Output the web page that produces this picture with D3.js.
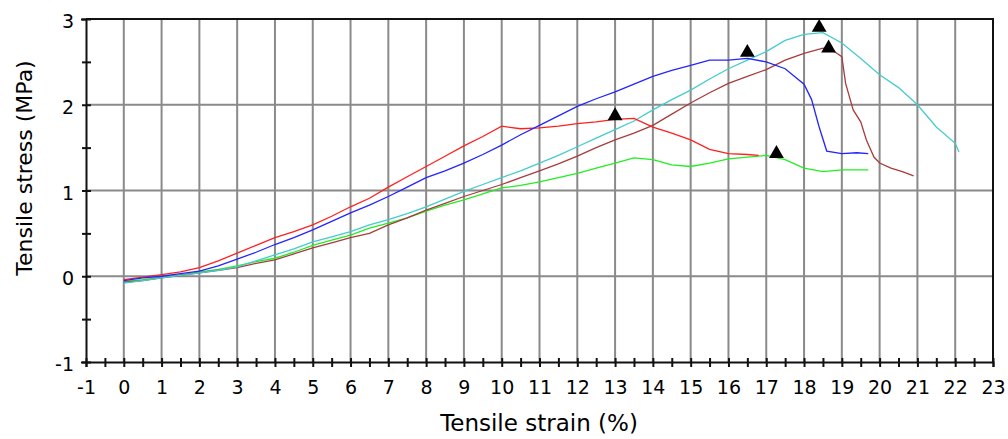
<!DOCTYPE html>
<html lang="en">
<head>
<meta charset="UTF-8">
<title>Tensile stress vs strain</title>
<script src="https://d3js.org/d3.v7.min.js"></script>
<style>
  body { margin: 0; background: #fff; }
  text { font-family: "DejaVu Sans", Verdana, sans-serif; fill: #000; }
</style>
</head>
<body>
<div id="chart"></div>
<script>
// curves: [strain %, stress MPa]
const redPts = [[0,-0.04],[0.5,-0.01],[1,0.02],[1.5,0.05],[2,0.1],[2.5,0.18],[3,0.27],[3.5,0.36],[4,0.45],[4.5,0.52],[5,0.6],[5.5,0.7],[6,0.81],[6.5,0.91],[7,1.04],[7.5,1.16],[8,1.28],[8.5,1.4],[9,1.52],[9.5,1.63],[10,1.75],[10.5,1.72],[11,1.73],[11.5,1.75],[12,1.78],[12.5,1.8],[13,1.83],[13.5,1.84],[14,1.74],[14.5,1.67],[15,1.59],[15.5,1.48],[16,1.43],[16.5,1.42],[16.8,1.41]];
const bluePts = [[0,-0.05],[0.5,-0.02],[1,0],[1.5,0.03],[2,0.06],[2.5,0.12],[3,0.2],[3.5,0.28],[4,0.37],[4.5,0.45],[5,0.54],[5.5,0.64],[6,0.74],[6.5,0.83],[7,0.93],[7.5,1.04],[8,1.15],[8.5,1.23],[9,1.32],[9.5,1.42],[10,1.53],[10.5,1.65],[11,1.76],[11.5,1.87],[12,1.98],[12.5,2.07],[13,2.15],[13.5,2.24],[14,2.33],[14.5,2.4],[15,2.46],[15.5,2.52],[16,2.52],[16.5,2.54],[17,2.5],[17.5,2.42],[18,2.24],[18.2,2.06],[18.4,1.74],[18.6,1.46],[19,1.43],[19.4,1.44],[19.7,1.43]];
const cyanPts = [[0,-0.08],[0.5,-0.05],[1,-0.02],[1.5,0.01],[2,0.04],[2.5,0.07],[3,0.11],[3.5,0.18],[4,0.25],[4.5,0.32],[5,0.4],[5.5,0.46],[6,0.52],[6.5,0.6],[7,0.66],[7.5,0.73],[8,0.81],[8.5,0.9],[9,0.99],[9.5,1.07],[10,1.15],[10.5,1.23],[11,1.32],[11.5,1.41],[12,1.51],[12.5,1.61],[13,1.71],[13.5,1.81],[14,1.94],[14.5,2.06],[15,2.17],[15.5,2.3],[16,2.42],[16.5,2.52],[17,2.62],[17.5,2.75],[18,2.82],[18.5,2.84],[19,2.72],[19.5,2.54],[20,2.35],[20.5,2.2],[21,2.0],[21.5,1.74],[22,1.55],[22.1,1.45]];
const brownPts = [[0,-0.07],[0.5,-0.05],[1,-0.02],[1.5,0.01],[2,0.04],[2.5,0.07],[3,0.1],[3.5,0.15],[4,0.19],[4.5,0.26],[5,0.33],[5.5,0.39],[6,0.45],[6.5,0.5],[7,0.6],[7.5,0.68],[8,0.77],[8.5,0.85],[9,0.93],[9.5,1.0],[10,1.07],[10.5,1.15],[11,1.23],[11.5,1.31],[12,1.4],[12.5,1.5],[13,1.59],[13.5,1.67],[14,1.76],[14.5,1.89],[15,2.02],[15.5,2.14],[16,2.25],[16.5,2.33],[17,2.41],[17.5,2.52],[18,2.6],[18.5,2.66],[18.8,2.62],[19,2.56],[19.1,2.25],[19.3,1.94],[19.5,1.8],[19.65,1.59],[19.85,1.39],[20,1.32],[20.3,1.26],[20.6,1.22],[20.9,1.17]];
const greenPts = [[0,-0.06],[0.5,-0.04],[1,-0.01],[1.5,0.02],[2,0.05],[2.5,0.08],[3,0.12],[3.5,0.17],[4,0.21],[4.5,0.28],[5,0.36],[5.5,0.42],[6,0.48],[6.5,0.56],[7,0.62],[7.5,0.68],[8,0.76],[8.5,0.83],[9,0.89],[9.5,0.96],[10,1.03],[10.5,1.06],[11,1.1],[11.5,1.15],[12,1.2],[12.5,1.26],[13,1.32],[13.5,1.38],[14,1.36],[14.5,1.3],[15,1.28],[15.5,1.32],[16,1.37],[16.5,1.39],[17,1.41],[17.5,1.36],[18,1.26],[18.5,1.22],[19,1.24],[19.7,1.24]];

// break points (triangles)
const peakPts = [[13.0,1.87],[16.5,2.61],[18.4,2.9],[18.65,2.66],[17.27,1.43]];

const xTicks = d3.range(-1, 23.5, 0.5);
const yTicks = d3.range(-1, 3.5, 0.5);

const series = [
    { pts: greenPts, color: "#22ee22" },
    { pts: brownPts, color: "#a83c3c" },
    { pts: cyanPts, color: "#44cccc" },
    { pts: redPts, color: "#ff2020" },
    { pts: bluePts, color: "#2424ff" }
];

const width = 1008, height = 439;
const x = d3.scaleLinear().domain([-1, 23]).range([86, 993]);
const y = d3.scaleLinear().domain([-1, 3]).range([362, 19]);

const svg = d3.select("#chart").append("svg")
    .attr("width", width)
    .attr("height", height);

// grid
svg.append("g").selectAll("line")
    .data(d3.range(0, 23))
    .enter().append("line")
    .attr("x1", d => x(d)).attr("x2", d => x(d))
    .attr("y1", y(-1)).attr("y2", y(3))
    .attr("stroke", "#8a8a8a").attr("stroke-width", 2);

svg.append("g").selectAll("line")
    .data([0, 1, 2])
    .enter().append("line")
    .attr("y1", d => y(d)).attr("y2", d => y(d))
    .attr("x1", x(-1)).attr("x2", x(23))
    .attr("stroke", "#8a8a8a").attr("stroke-width", 2);

// top and right frame
svg.append("path")
    .attr("d", `M${x(-1)},${y(3)}H${x(23)}V${y(-1)}`)
    .attr("fill", "none").attr("stroke", "#111").attr("stroke-width", 2);

// curves
const line = d3.line().x(d => x(d[0])).y(d => y(d[1]));
svg.append("g").selectAll("path")
    .data(series)
    .enter().append("path")
    .attr("d", d => line(d.pts))
    .attr("fill", "none")
    .attr("stroke", d => d.color)
    .attr("stroke-width", 1.3);

// axes
const fmt = d => Number.isInteger(d) ? String(d) : "";

const xAxis = svg.append("g")
    .attr("transform", `translate(0,${y(-1)})`)
    .call(d3.axisBottom(x).tickValues(xTicks).tickFormat(fmt).tickSize(5).tickPadding(14));
const yAxis = svg.append("g")
    .attr("transform", `translate(${x(-1)},0)`)
    .call(d3.axisLeft(y).tickValues(yTicks).tickFormat(fmt).tickSize(5).tickPadding(7));

[xAxis, yAxis].forEach(g => {
    g.select(".domain").attr("stroke", "#111").attr("stroke-width", 2);
    g.selectAll(".tick line").attr("stroke", "#111").attr("stroke-width", 2);
    g.selectAll(".tick text")
        .style("font-family", '"DejaVu Sans", Verdana, sans-serif')
        .style("font-size", "19px").attr("fill", "#000");
});
// ticks cross the axis line
xAxis.selectAll(".tick line").attr("y1", -4).attr("y2", 5);
yAxis.selectAll(".tick line").attr("x1", 5).attr("x2", -4);
yAxis.selectAll(".tick text").attr("dy", "0.45em");

// markers
svg.append("g").selectAll("path")
    .data(peakPts)
    .enter().append("path")
    .attr("d", d3.symbol(d3.symbolTriangle, 95))
    .attr("transform", d => `translate(${x(d[0])},${y(d[1])})`)
    .attr("fill", "#000");

// axis titles
svg.append("text")
    .attr("x", 539).attr("y", 431)
    .attr("text-anchor", "middle")
    .style("font-size", "23px")
    .text("Tensile strain (%)");

svg.append("text")
    .attr("transform", `translate(32,168) rotate(-90)`)
    .attr("text-anchor", "middle")
    .style("font-size", "22px")
    .text("Tensile stress (MPa)");
</script>
</body>
</html>
